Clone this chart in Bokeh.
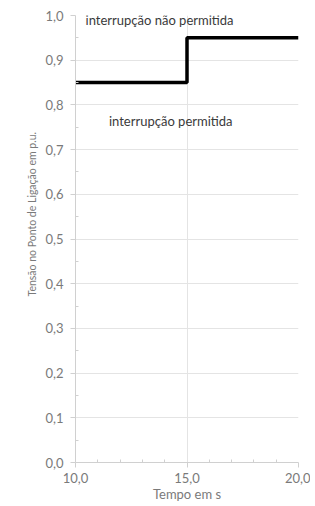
from bokeh.plotting import figure
from bokeh.models import FixedTicker, CustomJSTickFormatter, Range1d, Title
from bokeh.core.properties import value
from bokeh.embed import file_html
from bokeh.resources import INLINE

# Data
tempo = [10, 15, 20]
tensao = [0.85, 0.95, 0.95]
x_ticks = [10, 15, 20]
x_minor = [11, 12, 13, 14, 16, 17, 18, 19]
y_ticks = [0.0, 0.1, 0.2, 0.3, 0.4, 0.5, 0.6, 0.7, 0.8, 0.9, 1.0]
y_minor = [0.05, 0.15, 0.25, 0.35, 0.45, 0.55, 0.65, 0.75, 0.85, 0.95]
region_labels = ["interrupção não permitida", "interrupção permitida"]
label_x = [10.45, 11.5]
label_y = [0.99, 0.765]
y_title = "Tensão no Ponto de Ligação em p.u."
x_title = "Tempo em s"

FONT = "Lato"
GREY = "#7a7a7a"

p = figure(width=310, height=504, output_backend="svg", toolbar_location=None,
           x_range=Range1d(10, 20), y_range=Range1d(0, 1.0),
           min_border_left=75, min_border_right=12, min_border_top=15, min_border_bottom=40)
p.outline_line_color = None
p.background_fill_color = "white"

p.step(x=tempo, y=tensao, mode="after", line_color="black", line_width=3.5)

p.text(x=label_x, y=label_y, text=region_labels, text_font=value(FONT),
       text_font_size="13px", text_color="#3a3a3a", text_baseline="middle", text_align="left")

fmt = CustomJSTickFormatter(code="return tick.toFixed(1).replace('.', ',');")

p.xaxis.ticker = FixedTicker(ticks=x_ticks, minor_ticks=x_minor)
p.yaxis.ticker = FixedTicker(ticks=y_ticks, minor_ticks=y_minor)
p.xaxis.formatter = fmt
p.yaxis.formatter = fmt

for ax in (p.xaxis, p.yaxis):
    ax.axis_line_color = "#d0d0d0"
    ax.major_tick_line_color = "#d0d0d0"
    ax.minor_tick_line_color = "#d0d0d0"
    ax.major_tick_out = 5
    ax.major_tick_in = 0
    ax.minor_tick_out = 0
    ax.minor_tick_in = 3
    ax.major_label_text_font = FONT
    ax.major_label_text_font_size = "13px"
    ax.major_label_text_color = GREY
    ax.axis_label_text_font = FONT
    ax.axis_label_text_font_size = "13px"
    ax.axis_label_text_color = GREY
    ax.axis_label_text_font_style = "normal"

p.xaxis.axis_label = x_title
p.xaxis.axis_label_standoff = 0
p.xaxis.major_label_standoff = 5
p.yaxis.major_label_standoff = 7

ylab = Title(text=y_title, align="left", offset=166,
             text_font=FONT, text_font_size="10.5px", text_color=GREY,
             text_font_style="normal")
p.add_layout(ylab, "left")

p.xgrid.ticker = FixedTicker(ticks=x_ticks)
p.ygrid.ticker = FixedTicker(ticks=y_ticks)
p.xgrid.grid_line_color = "#e4e4e4"
p.ygrid.grid_line_color = "#e4e4e4"

open("out.html", "w").write(file_html(p, INLINE))
